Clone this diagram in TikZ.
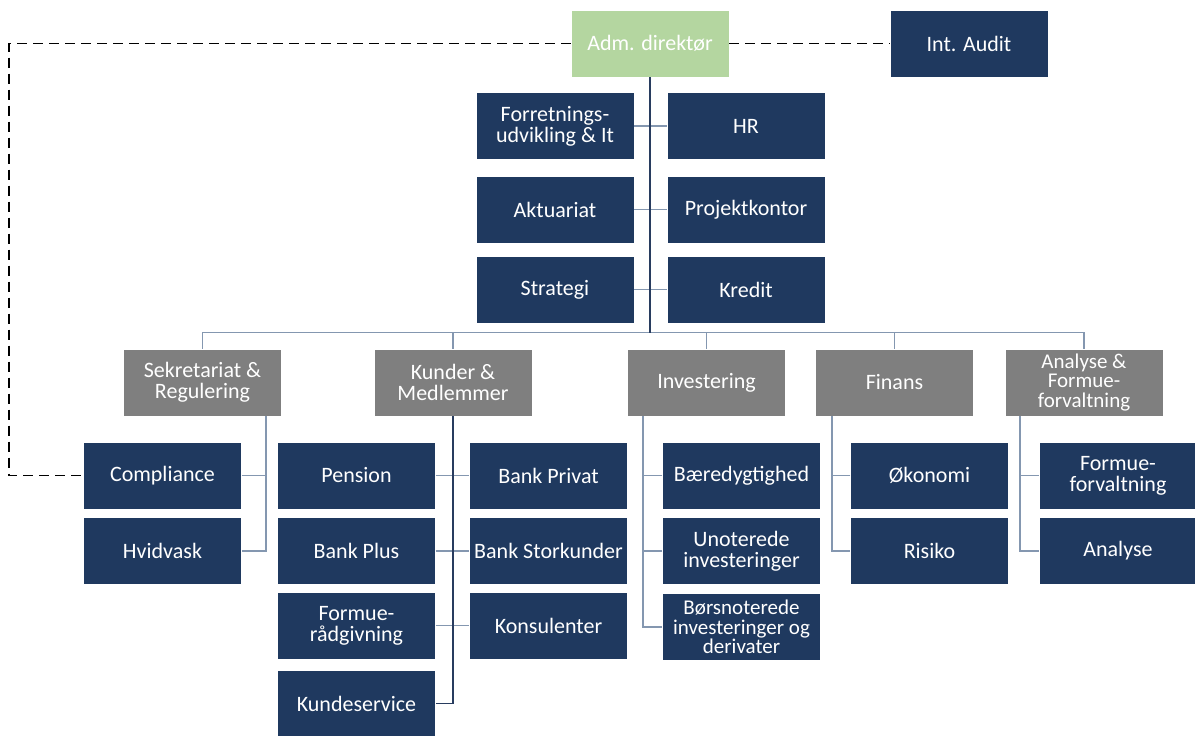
\documentclass[tikz,border=0pt]{standalone}
\usepackage{fontspec}
\setmainfont{Carlito}
\definecolor{navy}{RGB}{31,57,95}
\definecolor{boxgray}{RGB}{127,127,127}
\definecolor{admgreen}{RGB}{180,214,160}
\definecolor{linelight}{RGB}{132,151,176}
\definecolor{linedark}{RGB}{40,60,95}
\begin{document}
\begin{tikzpicture}[x=1pt,y=-1pt,
  base/.style={rectangle,minimum width=158pt,minimum height=67pt,inner sep=2pt,
    text=white,align=center,font=\fontsize{22}{21}\selectfont,draw=white,line width=0.4pt},
  navybox/.style={base,fill=navy},
  graybox/.style={base,fill=boxgray},
  greenbox/.style={base,fill=admgreen},
  tight/.style={font=\fontsize{21}{19.5}\selectfont},
  conn/.style={draw=linelight,line width=1.3pt},
  mainconn/.style={draw=linedark,line width=2pt},
  dashconn/.style={draw=black,line width=1.2pt,dash pattern=on 10pt off 6pt}]
\useasboundingbox (0,0) rectangle (1195,736);
\fill[white] (0,0) rectangle (1195,736);

% top level
\node[greenbox] (adm) at (650,43.5) {Adm. direktør};
\node[navybox] (audit) at (969,43.5) {Int. Audit};

% staff
\node[navybox] (fu) at (555,126) {Forretnings-\\udvikling \& It};
\node[navybox] (hr) at (746,126) {HR};
\node[navybox] (akt) at (555,209.5) {Aktuariat};
\node[navybox] (proj) at (746,209.5) {Projektkontor};
\node[navybox] (strat) at (555,289.5) {Strategi};
\node[navybox] (kred) at (746,289.5) {Kredit};

% divisions
\node[graybox] (sek) at (202.5,382.5) {Sekretariat \&\\Regulering};
\node[graybox] (kun) at (453,382.5) {Kunder \&\\Medlemmer};
\node[graybox] (inv) at (706.5,382.5) {Investering};
\node[graybox] (fin) at (894.5,382.5) {Finans};
\node[graybox,tight] (ana) at (1084,382.5) {Analyse \&\\Formue-\\forvaltning};

% Sekretariat
\node[navybox] (comp) at (162.5,475.5) {Compliance};
\node[navybox] (hvid) at (162.5,551) {Hvidvask};

% Kunder
\node[navybox] (pens) at (356.5,475.5) {Pension};
\node[navybox] (bplus) at (356.5,551) {Bank Plus};
\node[navybox] (frad) at (356.5,625.5) {Formue-\\rådgivning};
\node[navybox] (kserv) at (356.5,703.5) {Kundeservice};
\node[navybox] (bpriv) at (548.5,475.5) {Bank Privat};
\node[navybox] (bstor) at (548.5,551) {Bank Storkunder};
\node[navybox] (kons) at (548.5,625.5) {Konsulenter};

% Investering
\node[navybox] (baer) at (741.5,475.5) {Bæredygtighed};
\node[navybox] (unot) at (741.5,551) {Unoterede\\investeringer};
\node[navybox,tight] (bors) at (741.5,627) {Børsnoterede\\investeringer og\\derivater};

% Finans
\node[navybox] (oek) at (929.5,475.5) {Økonomi};
\node[navybox] (risk) at (929.5,551) {Risiko};

% Analyse
\node[navybox] (ffor) at (1118,475.5) {Formue-\\forvaltning};
\node[navybox] (anal) at (1118,551) {Analyse};

% connectors: top
\coordinate (hub) at (650,333);
\draw[conn] (fu.east) -- (hr.west);
\draw[conn] (akt.east) -- (proj.west);
\draw[conn] (strat.east) -- (kred.west);
\draw[conn] (sek.north) -- ++(0,-16) -| (ana.north);
\draw[conn] (kun.north) -- ++(0,-16);
\draw[conn] (inv.north) -- ++(0,-16);
\draw[conn] (fin.north) -- ++(0,-16);
\draw[mainconn] (adm.south) -- (hub);

% dashed
\draw[dashconn] (adm.east) -- (audit.west);
\draw[dashconn] (adm.west) -| (9,475.5) -- (comp.west);

% Sekretariat
\coordinate (sekd) at ([xshift=63.5pt]sek.south);
\draw[conn] (comp.east) -| (sekd);
\draw[conn] (sekd) |- (hvid.east);

% Kunder
\draw[conn] (pens.east) -- (bpriv.west);
\draw[conn] (bplus.east) -- (bstor.west);
\draw[conn] (frad.east) -- (kons.west);
\draw[mainconn,line width=1.3pt] (kun.south) |- (kserv.east);

% Investering
\coordinate (invd) at ([xshift=-63.5pt]inv.south);
\draw[conn] (baer.west) -| (invd);
\draw[conn] (unot.west) -| (invd);
\draw[conn] (invd) |- (bors.west);

% Finans
\coordinate (find) at ([xshift=-62.5pt]fin.south);
\draw[conn] (oek.west) -| (find);
\draw[conn] (find) |- (risk.west);

% Analyse
\coordinate (anad) at ([xshift=-64pt]ana.south);
\draw[conn] (ffor.west) -| (anad);
\draw[conn] (anad) |- (anal.west);
\end{tikzpicture}
\end{document}
